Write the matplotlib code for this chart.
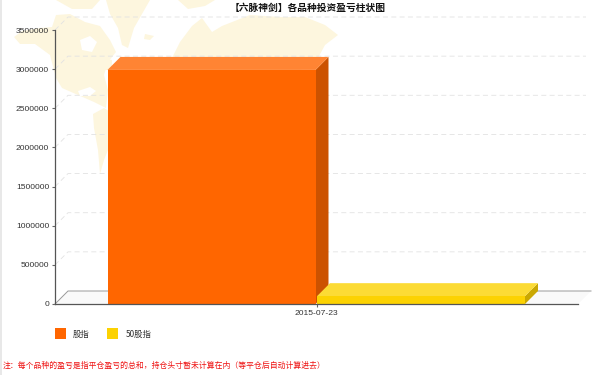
#!/usr/bin/env python3

import matplotlib
matplotlib.use('Agg')
import matplotlib.pyplot as plt
from matplotlib.patches import Polygon, Rectangle

plt.rcParams['font.family'] = ['Noto Sans CJK SC', 'DejaVu Sans']

TITLE    = '【六脉神剑】各品种投资盈亏柱状图'
NOTE     = '注：每个品种的盈亏是指平仓盈亏的总和，持仓头寸暂未计算在内（等平仓后自动计算进去）'
DATE     = '2015-07-23'
SERIES   = ['股指', '50股指']
VALUES   = [2990000, 100000]
YTICKS   = [0, 500000, 1000000, 1500000, 2000000, 2500000, 3000000, 3500000]
FRONT    = ['#ff6600', '#fcd202']
TOPS     = ['#ff8433', '#fcdb35']
SIDES    = ['#cc5200', '#caa802']

# world map backdrop, rough outlines in pixels
MAP_SHAPES = [
    [(14, 37), (22, 31), (40, 28), (52, 27), (56, 15), (70, 14), (85, 22), (100, 26), (110, 40),
     (116, 52), (108, 62), (104, 75), (108, 90), (106, 108), (94, 102), (78, 95), (62, 88),
     (56, 78), (50, 55), (35, 44), (20, 44)],
    [(93, 114), (104, 108), (120, 118), (112, 140), (104, 160), (100, 174), (98, 150), (94, 128)],
    [(106, 0), (150, 0), (142, 14), (134, 28), (128, 48), (122, 45), (118, 28), (110, 14)],
    [(56, 0), (100, 0), (92, 9), (72, 9)],
    [(172, 58), (180, 42), (192, 26), (202, 18), (212, 32), (222, 26), (250, 15), (280, 17),
     (305, 17), (325, 25), (338, 35), (325, 45), (318, 58), (300, 70), (172, 70)],
    [(178, 0), (215, 0), (205, 6), (188, 9)],
    [(145, 34), (154, 36), (150, 40), (144, 39)],
    [(100, 58), (112, 60), (112, 70), (100, 70)],
]
MAP_HOLES = [
    [(80, 40), (90, 36), (97, 42), (92, 52), (82, 50)],
    [(78, 91), (90, 87), (96, 91), (90, 96), (80, 96)],
]

W, H    = 600, 375
X0, X1  = 55, 578
Y0, Y35 = 304, 30
DX, DY  = 13, 13
BAR_W   = 208
BAR_X   = [107.5, 317]

fig = plt.figure(figsize=(W / 100, H / 100), dpi=100)

# pixel layer behind the chart
bg = fig.add_axes([0, 0, 1, 1], zorder=0)
bg.set_xlim(0, W)
bg.set_ylim(H, 0)
bg.axis('off')
bg.add_patch(Rectangle((0, 0), 1.5, H, color='#e8e8e8', lw=0))
for shape in MAP_SHAPES:
    bg.add_patch(Polygon(shape, closed=True, fc='#fdf6de', ec='none', zorder=1))
for shape in MAP_HOLES:
    bg.add_patch(Polygon(shape, closed=True, fc='white', ec='none', zorder=2))

# chart axes lined up with the pixel positions
ax = fig.add_axes([X0 / W, 1 - Y0 / H, (X1 - X0) / W, (Y0 - Y35) / H], zorder=1)
ax.patch.set_alpha(0)
ax.set_xlim(X0, X1)
ax.set_ylim(0, YTICKS[-1])
unit = YTICKS[-1] / (Y0 - Y35)
dy = DY * unit

# floor and back wall
ax.add_patch(Polygon([(X0, 0), (X0 + DX, dy), (X1 + DX, dy), (X1, 0)], closed=True,
                     fc='#f9f9f9', ec='none', clip_on=False, zorder=1))
ax.plot([X0, X0 + DX, X1 + DX], [0, dy, dy], color='#999999', lw=0.7, clip_on=False, zorder=2)

# dashed grid with its small diagonal
for v in YTICKS[1:]:
    ax.plot([X0, X0 + DX, 586], [v, v + dy, v + dy], color='#e2e2e2', lw=0.6,
            dashes=(6, 4), clip_on=False, zorder=2)

# bars: front, top, side
for x, v, f, t, s in zip(BAR_X, VALUES, FRONT, TOPS, SIDES):
    ax.add_patch(Polygon([(x + BAR_W, 0), (x + BAR_W + DX, dy), (x + BAR_W + DX, v + dy), (x + BAR_W, v)],
                         closed=True, fc=s, ec='none', zorder=3))
    ax.add_patch(Polygon([(x, v), (x + DX, v + dy), (x + BAR_W + DX, v + dy), (x + BAR_W, v)],
                         closed=True, fc=t, ec='none', zorder=3))
    ax.bar(x, v, width=BAR_W, align='edge', color=f, zorder=4)

for side in ['top', 'right']:
    ax.spines[side].set_visible(False)
for side in ['left', 'bottom']:
    ax.spines[side].set_color('#555555')
    ax.spines[side].set_linewidth(0.9)
    ax.spines[side].set_zorder(5)

ax.set_yticks(YTICKS)
ax.set_yticklabels([str(v) for v in YTICKS], family='Liberation Sans')
ax.set_xticks([316.5])
ax.set_xticklabels([DATE], family='Liberation Sans')
ax.tick_params(axis='both', labelsize=6.1, labelcolor='#333333', color='#666666', length=2.2,
               width=0.8, pad=2)

fig.text(308 / W, 1 - 7.5 / H, TITLE, fontsize=7, fontweight='bold', color='#111111',
         ha='center', va='center')

# legend
for x, c, name, tx in zip([55, 107], FRONT, SERIES, [73, 126]):
    bg.add_patch(Rectangle((x, 328), 11, 11, fc=c, ec='none', zorder=3))
    bg.text(tx, 334, name, fontsize=6, color='#333333', va='center')

bg.text(3, 366, NOTE, fontsize=5.65, fontweight='medium', color='#ee1111', va='center')

fig.savefig('out.png', dpi=100)
